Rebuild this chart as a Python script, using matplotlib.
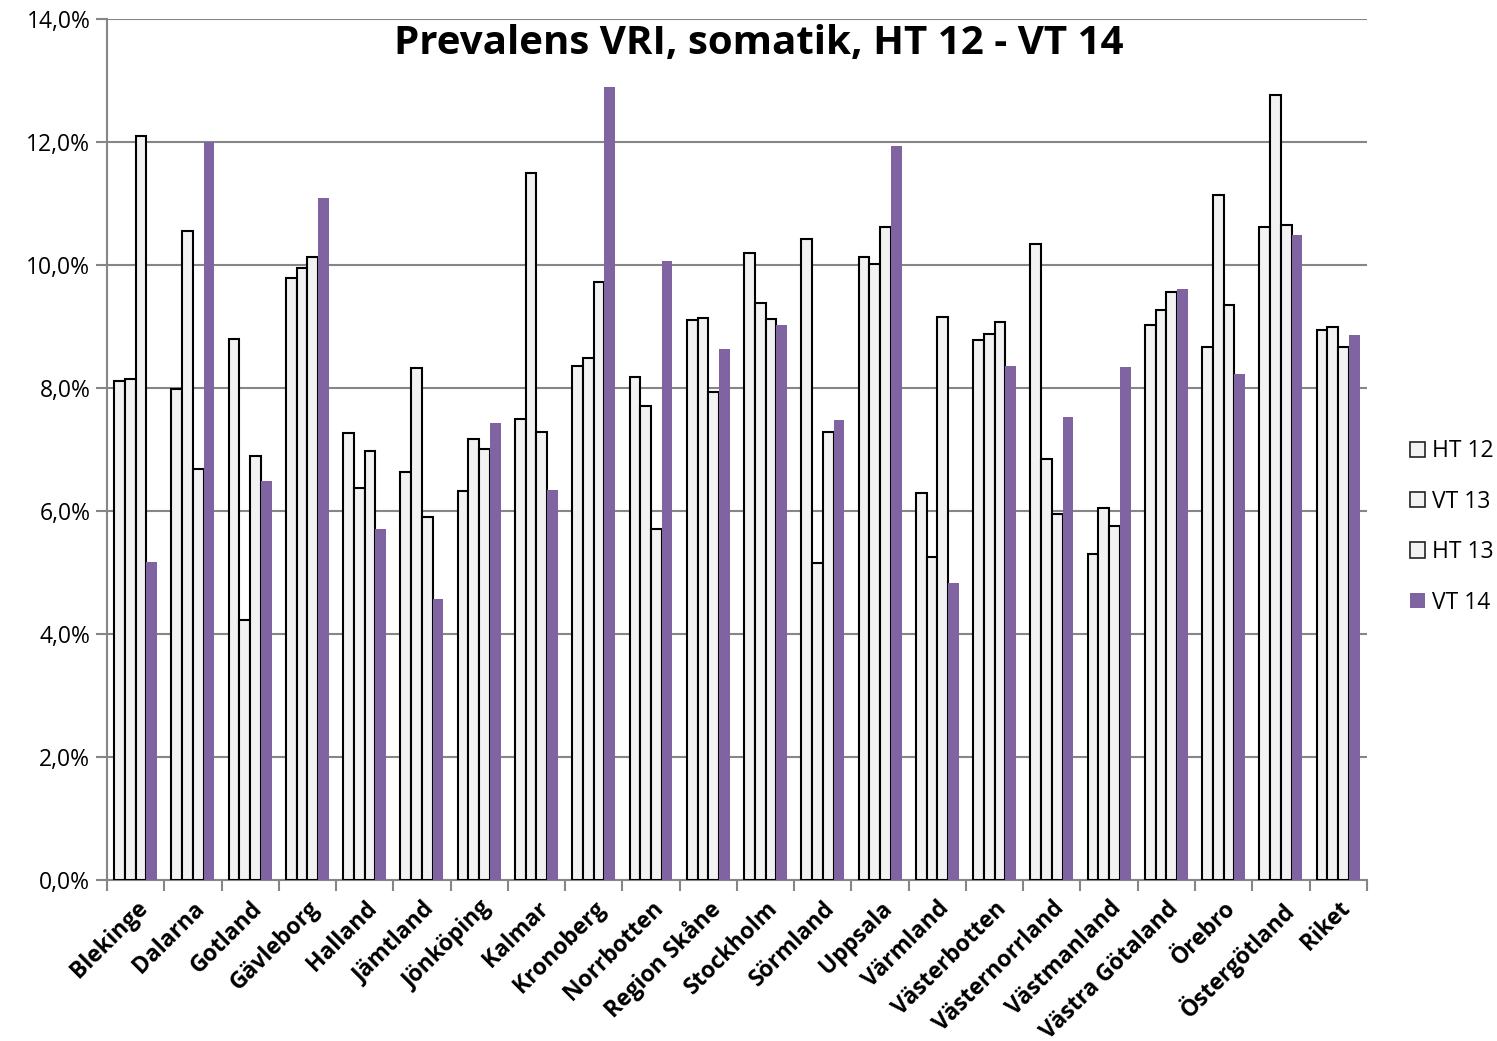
import numpy as np
import matplotlib.pyplot as plt
from matplotlib.ticker import FixedLocator, FuncFormatter

plt.rcParams['font.family'] = ['Open Sans', 'DejaVu Sans']

regions = ['Blekinge', 'Dalarna', 'Gotland', 'Gävleborg', 'Halland', 'Jämtland',
           'Jönköping', 'Kalmar', 'Kronoberg', 'Norrbotten', 'Region Skåne',
           'Stockholm', 'Sörmland', 'Uppsala', 'Värmland', 'Västerbotten',
           'Västernorrland', 'Västmanland', 'Västra Götaland', 'Örebro',
           'Östergötland', 'Riket']

# prevalens i procent
ht12 = [8.11, 7.98, 8.80, 9.79, 7.27, 6.63, 6.33, 7.50, 8.36, 8.18, 9.11,
        10.20, 10.42, 10.13, 6.29, 8.78, 10.34, 5.30, 9.02, 8.67, 10.62, 8.94]
vt13 = [8.15, 10.55, 4.23, 9.95, 6.37, 8.33, 7.17, 11.50, 8.49, 7.71, 9.14,
        9.38, 5.15, 10.02, 5.25, 8.88, 6.85, 6.05, 9.27, 11.14, 12.76, 8.99]
ht13 = [12.10, 6.68, 6.89, 10.13, 6.98, 5.90, 7.01, 7.28, 9.72, 5.71, 7.93,
        9.12, 7.28, 10.62, 9.15, 9.07, 5.95, 5.76, 9.56, 9.35, 10.65, 8.67]
vt14 = [5.17, 12.00, 6.49, 11.09, 5.71, 4.57, 7.43, 6.34, 12.90, 10.07, 8.63,
        9.02, 7.48, 11.93, 4.83, 8.36, 7.53, 8.34, 9.61, 8.23, 10.49, 8.86]

series = [('HT 12', ht12), ('VT 13', vt13), ('HT 13', ht13), ('VT 14', vt14)]

grey = '#868686'
light = '#F2F2F2'
purple = '#8064A2'

fig = plt.figure(figsize=(14.97, 10.41), dpi=100)
ax = fig.add_axes([0.0715, 0.1547, 0.8415, 0.827])

x = np.arange(len(regions))
w = 0.1875
handles = []
for i, (name, vals) in enumerate(series):
    pos = x + (i - 1.5) * w
    if name == 'VT 14':
        ax.bar(pos, vals, w, color=purple, edgecolor='none', zorder=3)
        h = plt.Rectangle((0, 0), 1, 1, facecolor=purple, edgecolor='none')
    else:
        ax.bar(pos, vals, w, color=light, edgecolor='black', linewidth=1.5, zorder=3)
        h = plt.Rectangle((0, 0), 1, 1, facecolor=light, edgecolor='#222222', linewidth=1.2)
    handles.append(h)

ax.set_xlim(-0.5, len(regions) - 0.5)
ax.set_ylim(0, 14)
ax.set_yticks(np.arange(0, 15, 2))
ax.yaxis.set_major_formatter(FuncFormatter(lambda v, p: ('%.1f%%' % v).replace('.', ',')))
ax.yaxis.grid(True, color=grey, linewidth=1.5, zorder=0)
ax.set_axisbelow(True)

ax.xaxis.set_major_locator(FixedLocator(np.arange(-0.5, len(regions), 1)))
ax.xaxis.set_major_formatter(FuncFormatter(lambda v, p: ''))
ax.xaxis.set_minor_locator(FixedLocator(x))
ax.set_xticklabels(regions, minor=True, rotation=45, ha='right',
                   rotation_mode='anchor', fontweight='bold', fontsize=16.5)
ax.tick_params(axis='x', which='minor', length=0, pad=12)
ax.tick_params(axis='x', which='major', length=8, width=1.5, color=grey)
ax.tick_params(axis='y', length=8, width=1.5, color=grey, labelsize=16.5, pad=4)

for s in ['top', 'right']:
    ax.spines[s].set_visible(False)
for s in ['left', 'bottom']:
    ax.spines[s].set_color(grey)
    ax.spines[s].set_linewidth(1.5)

ax.text(0.517, 0.949, 'Prevalens VRI, somatik, HT 12 - VT 14', transform=ax.transAxes,
        fontsize=29, fontweight='bold', ha='center', va='bottom')

ax.legend(handles, [s[0] for s in series], loc='center left',
          bbox_to_anchor=(1.027, 0.41), frameon=False,
          fontsize=16.5, handlelength=0.65, handleheight=0.65, labelspacing=1.15,
          handletextpad=0.3, borderaxespad=0)

fig.savefig('out.png', dpi=100)
